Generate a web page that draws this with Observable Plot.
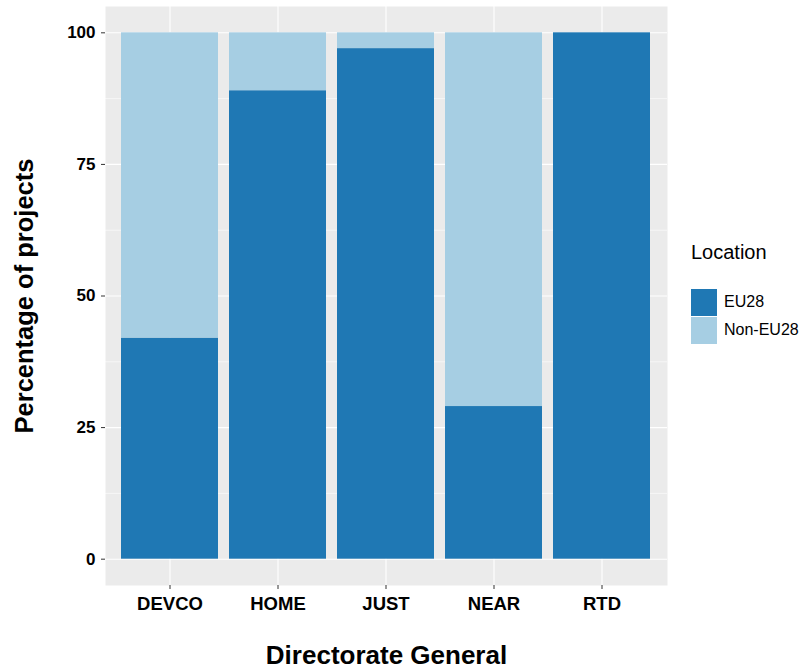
<!DOCTYPE html>
<html>
<head>
<meta charset="utf-8">
<script src="https://cdn.jsdelivr.net/npm/d3@7"></script>
<script src="https://cdn.jsdelivr.net/npm/@observablehq/plot@0.6"></script>
<style>
  body { margin: 0; background: #fff; font-family: "Liberation Sans", Arial, sans-serif; }
  #wrap { position: relative; width: 803px; height: 670px; }
  #legend { position: absolute; left: 691px; top: 240px; color: #000; }
  #legend .title { font-size: 20px; line-height: 24px; margin-bottom: 24px; }
  #legend .row { display: flex; align-items: center; height: 28px; }
  #legend .sw { width: 26px; height: 27px; margin-right: 7px; }
  #legend .lab { font-size: 16px; }
</style>
</head>
<body>
<div id="wrap"></div>
<script>
const categories = ["DEVCO", "HOME", "JUST", "NEAR", "RTD"];
const seriesNames = ["EU28", "Non-EU28"];
const eu28 = [42, 89, 97, 29, 100];
const nonEu28 = [58, 11, 3, 71, 0];
const yTicks = [0, 25, 50, 75, 100];
const yMinor = [12.5, 37.5, 62.5, 87.5];
const colors = ["#1f78b4", "#a6cee3"];

const data = [];
categories.forEach((c, i) => {
  data.push({dg: c, loc: seriesNames[0], value: eu28[i]});
  data.push({dg: c, loc: seriesNames[1], value: nonEu28[i]});
});

const plot = Plot.plot({
  width: 803,
  height: 670,
  marginLeft: 105,
  marginRight: 136,
  marginTop: 6,
  marginBottom: 85,
  style: {fontFamily: "'Liberation Sans', Arial, sans-serif", background: "white"},
  x: {domain: categories, paddingInner: 0.1, paddingOuter: 0.15, label: null},
  y: {domain: [-5, 105], label: null},
  color: {domain: seriesNames, range: colors},
  marks: [
    Plot.frame({fill: "#ebebeb", stroke: null}),
    Plot.ruleY(yMinor, {stroke: "white", strokeWidth: 0.55}),
    Plot.gridY({ticks: yTicks, stroke: "white", strokeOpacity: 1, strokeWidth: 1.1}),
    Plot.gridX({stroke: "white", strokeOpacity: 1, strokeWidth: 1.1}),
    Plot.barY(data, Plot.stackY({x: "dg", y: "value", fill: "loc", order: seriesNames})),
    Plot.axisY({ticks: yTicks, tickSize: 4, tickPadding: 6, stroke: "#333", fill: "black",
      fontSize: 17, fontWeight: "bold", label: null}),
    Plot.axisX({tickSize: 4, tickPadding: 7, stroke: "#333", fill: "black",
      fontSize: 18.5, fontWeight: "bold", label: null}),
    Plot.text(["Directorate General"], {frameAnchor: "bottom", dy: 70, fontSize: 26,
      fontWeight: "bold", fill: "black", lineAnchor: "middle", textAnchor: "middle"}),
    Plot.text(["Percentage of projects"], {frameAnchor: "left", dx: -81, rotate: -90, fontSize: 25.5,
      fontWeight: "bold", fill: "black", lineAnchor: "middle", textAnchor: "middle"})
  ]
});

const wrap = document.getElementById("wrap");
wrap.appendChild(plot);

const colorScale = plot.scale("color");
const legend = document.createElement("div");
legend.id = "legend";
let html = '<div class="title">Location</div>';
colorScale.domain.forEach((d, i) => {
  html += `<div class="row"><div class="sw" style="background:${colorScale.range[i]}"></div><span class="lab">${d}</span></div>`;
});
legend.innerHTML = html;
wrap.appendChild(legend);
</script>
</body>
</html>
